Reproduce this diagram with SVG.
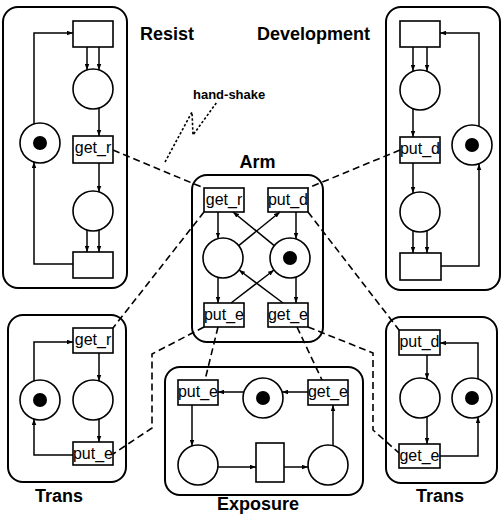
<svg xmlns="http://www.w3.org/2000/svg" width="502" height="515" viewBox="0 0 502 515">
<defs>
<marker id="ah" viewBox="0 0 8 6" refX="8" refY="3" markerWidth="6" markerHeight="5" orient="auto" markerUnits="userSpaceOnUse"><path d="M0,0 L8,3 L0,6 z" fill="#000"/></marker>
<style>
.box{fill:none;stroke:#000;stroke-width:2}
.t{fill:#fff;stroke:#000;stroke-width:1.6}
.p{fill:#fff;stroke:#000;stroke-width:1.6}
.tok{fill:#000}
.arc{fill:none;stroke:#000;stroke-width:1.5;marker-end:url(#ah)}
.dash{fill:none;stroke:#000;stroke-width:1.6;stroke-dasharray:7 4}
.dot{fill:none;stroke:#000;stroke-width:1.6;stroke-dasharray:2.5 2}
.lbl{font-family:"Liberation Sans",Arial,sans-serif;font-size:16px;text-anchor:middle}
.title{font-family:"Liberation Sans",Arial,sans-serif;font-size:18px;font-weight:bold}
.mid{text-anchor:middle}
.hs{font-family:"Liberation Sans",Arial,sans-serif;font-size:13px;font-weight:bold}
</style>
</defs>
<rect width="502" height="515" fill="#fff"/>

<!-- Resist -->
<g id="resist">
<rect class="box" x="3" y="7" width="124" height="281" rx="15"/>
<text class="title" x="140" y="40">Resist</text>
<g id="r_t1"><rect class="t" x="73" y="21" width="40" height="26"/></g>
<g id="r_p1"><circle class="p" cx="93" cy="89" r="20"/></g>
<g id="r_get_r"><rect class="t" x="73" y="136" width="40" height="27"/><text class="lbl" x="93" y="153">get_r</text></g>
<g id="r_p2"><circle class="p" cx="93" cy="211" r="20"/></g>
<g id="r_t2"><rect class="t" x="73" y="252" width="40" height="26"/></g>
<g id="r_tok"><circle class="p" cx="40" cy="143" r="20"/><circle class="tok" cx="40" cy="143" r="7"/></g>
</g>

<!-- Development -->
<g id="development">
<rect class="box" x="386" y="7" width="114" height="283" rx="15"/>
<text class="title" x="257" y="40">Development</text>
<g id="d_t1"><rect class="t" x="400" y="21" width="40" height="26"/></g>
<g id="d_p1"><circle class="p" cx="420" cy="90" r="20"/></g>
<g id="d_put_d"><rect class="t" x="400" y="137" width="40" height="26"/><text class="lbl" x="420" y="154">put_d</text></g>
<g id="d_p2"><circle class="p" cx="420" cy="212" r="20"/></g>
<g id="d_t2"><rect class="t" x="400" y="253" width="41" height="27"/></g>
<g id="d_tok"><circle class="p" cx="472" cy="145" r="20"/><circle class="tok" cx="472" cy="145" r="7"/></g>
</g>

<!-- Arm -->
<g id="arm">
<rect class="box" x="192" y="175" width="131" height="167" rx="15"/>
<text class="title mid" x="257.5" y="168">Arm</text>
<g id="a_get_r"><rect class="t" x="204" y="188" width="40" height="24"/><text class="lbl" x="224" y="205">get_r</text></g>
<g id="a_put_d"><rect class="t" x="268" y="188" width="40" height="24"/><text class="lbl" x="288" y="205">put_d</text></g>
<g id="a_pl"><circle class="p" cx="223" cy="258" r="20"/></g>
<g id="a_pr"><circle class="p" cx="290" cy="258" r="20"/><circle class="tok" cx="290" cy="258" r="7"/></g>
<g id="a_put_e"><rect class="t" x="204" y="303" width="40" height="24"/><text class="lbl" x="224" y="320">put_e</text></g>
<g id="a_get_e"><rect class="t" x="268" y="303" width="40" height="24"/><text class="lbl" x="288" y="320">get_e</text></g>
</g>

<!-- Trans left -->
<g id="trans_left">
<rect class="box" x="8" y="315" width="118" height="167" rx="15"/>
<text class="title mid" x="59" y="502">Trans</text>
<g id="lt_get_r"><rect class="t" x="73" y="328" width="40" height="25"/><text class="lbl" x="93" y="345">get_r</text></g>
<g id="lt_p"><circle class="p" cx="93" cy="400" r="20"/></g>
<g id="lt_tok"><circle class="p" cx="40" cy="400" r="20"/><circle class="tok" cx="40" cy="400" r="7"/></g>
<g id="lt_put_e"><rect class="t" x="73" y="442" width="40" height="23"/><text class="lbl" x="93" y="459">put_e</text></g>
</g>

<!-- Trans right -->
<g id="trans_right">
<rect class="box" x="386" y="317" width="111" height="166" rx="15"/>
<text class="title mid" x="440" y="502">Trans</text>
<g id="rt_put_d"><rect class="t" x="399" y="330" width="41" height="25"/><text class="lbl" x="419.5" y="347">put_d</text></g>
<g id="rt_p"><circle class="p" cx="420" cy="398" r="20"/></g>
<g id="rt_tok"><circle class="p" cx="472" cy="398" r="20"/><circle class="tok" cx="472" cy="398" r="7"/></g>
<g id="rt_get_e"><rect class="t" x="399" y="444" width="41" height="24"/><text class="lbl" x="419.5" y="461">get_e</text></g>
</g>

<!-- Exposure -->
<g id="exposure">
<rect class="box" x="165" y="367" width="198" height="128" rx="15"/>
<text class="title mid" x="258" y="510">Exposure</text>
<g id="e_put_e"><rect class="t" x="178" y="380" width="40" height="25"/><text class="lbl" x="198" y="397">put_e</text></g>
<g id="e_tok"><circle class="p" cx="263" cy="398" r="20"/><circle class="tok" cx="263" cy="398" r="7"/></g>
<g id="e_get_e"><rect class="t" x="308" y="380" width="40" height="25"/><text class="lbl" x="328" y="397">get_e</text></g>
<g id="e_p1"><circle class="p" cx="198" cy="465" r="20"/></g>
<g id="e_t"><rect class="t" x="256" y="443" width="28" height="39"/></g>
<g id="e_p2"><circle class="p" cx="328" cy="465" r="20"/></g>
</g>

<g id="handshake-label"><text class="hs" x="193" y="99">hand-shake</text></g>

<g id="connectors">
<!-- Resist -->
<path class="arc" d="M87,47 V70"/>
<path class="arc" d="M99,47 V70"/>
<path class="arc" d="M99,108 V136"/>
<path class="arc" d="M99,163 V192"/>
<path class="arc" d="M87,230 V252"/>
<path class="arc" d="M99,230 V252"/>
<path class="arc" d="M73,264 H34 V162"/>
<path class="arc" d="M34,124 V33 H73"/>
<!-- Development -->
<path class="arc" d="M413,47 V71"/>
<path class="arc" d="M427,47 V71"/>
<path class="arc" d="M413,109 V137"/>
<path class="arc" d="M413,163 V193"/>
<path class="arc" d="M413,231 V253"/>
<path class="arc" d="M427,231 V253"/>
<path class="arc" d="M441,266 H479 V164"/>
<path class="arc" d="M479,126 V33 H440"/>
<!-- Arm -->
<path class="arc" d="M218,212 V238.6"/>
<path class="arc" d="M218,277.4 V303"/>
<path class="arc" d="M296,212 V239"/>
<path class="arc" d="M296,277 V303"/>
<path class="arc" d="M274.3,245.6 L233,212"/>
<path class="arc" d="M238.7,245.6 L280,212"/>
<path class="arc" d="M283,303 L239,270"/>
<path class="arc" d="M231,303 L274,270"/>
<!-- Trans left -->
<path class="arc" d="M99,353 V381"/>
<path class="arc" d="M99,419 V442"/>
<path class="arc" d="M34,381 V342 H73"/>
<path class="arc" d="M73,455 H34 V419"/>
<!-- Trans right -->
<path class="arc" d="M427,355 V379.3"/>
<path class="arc" d="M427,416.7 V444"/>
<path class="arc" d="M478,379 V343 H440"/>
<path class="arc" d="M440,456 H478 V417"/>
<!-- Exposure -->
<path class="arc" d="M308,392 H282"/>
<path class="arc" d="M244,392 H218"/>
<path class="arc" d="M192,405 V446"/>
<path class="arc" d="M218,467 H256"/>
<path class="arc" d="M284,467 H308"/>
<path class="arc" d="M333,446 V405"/>
<!-- hand-shake links -->
<path class="dash" d="M113,150 L204,188"/>
<path class="dash" d="M400,150 L308,188"/>
<path class="dash" d="M204,212 L113,328"/>
<path class="dash" d="M308,212 L399,330"/>
<path class="dash" d="M204,327 L152,354 V428 L113,454"/>
<path class="dash" d="M218,327 L205,380"/>
<path class="dash" d="M297,327 L322,380"/>
<path class="dash" d="M308,327 L373,353 V430 L399,453"/>
<path class="dot" d="M165,162 L192,112 L193,135 L217,102"/>
</g>
</svg>
